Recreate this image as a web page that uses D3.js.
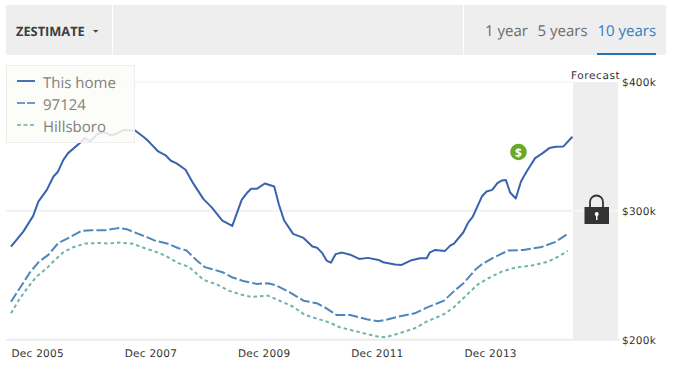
<!DOCTYPE html>
<html><head><meta charset="utf-8">
<script src="https://cdn.jsdelivr.net/npm/d3@7"></script>
<style>html,body{margin:0;padding:0;background:#fff}svg{display:block}text{text-rendering:geometricPrecision}</style>
</head><body><svg id="c" width="674" height="384"></svg>
<script>
// Values in $ thousands; months counted from Dec 2005
const homeMonths=[0,2.6,4.7,5.8,7.6,9,9.9,11.1,12.1,14.6,15.7,16.7,18.2,19.6,21.2,22.4,23.8,26.3,28.4,29.5,31.2,32.8,33.9,35.1,37,38.6,40.8,42.5,44.8,46.9,48.9,50,50.9,52.1,53.8,55.8,56.8,57.9,59.8,62,63.9,64.9,65.9,66.9,67.8,68.8,70.2,71.9,73.8,75.7,77.9,78.9,81.4,82.8,84.9,86.7,88.1,88.8,89.9,92,93.1,93.9,95.9,96.9,97.9,99.8,100.8,102,103.1,104,104.9,105.8,107,108.1,109.3,111.1,112.7,114.1,115.5,117.1,119];
const homeValues=[272.3,283.9,296.1,307.2,316.3,326.7,330.1,339.6,344.8,352.6,356.5,353.8,359.1,361.4,358.5,359.8,362.7,362.4,356.5,352.6,346.1,343,338.9,336.8,331.9,321.5,309.1,302.9,292.5,288.3,308.5,313.8,317.1,317.1,321.2,318.9,304.7,292.5,282.1,279,272.3,271.3,267.6,261.4,259.8,266.4,267.6,266,262.7,263.5,261.9,260.1,258.3,258,261.7,263.2,263.2,267.8,269.7,268.9,273,274.6,283.4,290.9,295.6,311.1,315,316.3,321.5,323.5,323.9,314.2,309.6,322.8,330.5,340.9,344.8,348.7,349.7,350,357.5];
const zipMonths=[0,2.3,4,5.8,7.9,10,12.5,15,17.1,19.9,22.7,24.5,27,28.8,30.5,33.3,35.5,37.2,39.4,41.1,43.2,45,46.8,49.2,52.1,54.5,56.3,59.1,62,64.8,66.6,69,71.9,75.4,77.9,79.3,82.1,85.6,88.1,91.7,93.8,95.9,98.4,99.8,102.3,105.4,108.6,112.5,115.3,118];
const zipValues=[229.5,242.5,252.1,260.1,265.8,274.9,279.6,284.5,285,285,286.6,285.8,282.1,279.6,276.9,274.4,271,269.2,261.4,256.3,254.2,252.1,248.5,245.6,243.3,243.8,242,236.8,230.3,228.3,224.9,219.2,219.2,215.9,214.3,215.3,217.9,220.5,224.9,230.1,237.3,243.8,254.2,258.6,263.7,269.2,269.7,272,275.7,282.1];
const cityMonths=[0,1.9,3.7,5.4,7.6,9.3,11.1,13.2,15.7,18.9,20.6,23.1,25.9,28.4,31.6,33.3,35.5,37.6,38.6,40.8,43.6,46.1,48.5,51,54.5,57.4,59.8,62.3,65.1,67.6,69.7,72.6,75.4,77.9,79.3,82.1,85.6,88.1,91.7,93.8,96.2,99,101.2,104,106.8,110.4,113.9,116,118];
const cityValues=[220.5,232.2,241.2,249,255.5,261.9,267.9,271.8,274.6,275.1,274.6,275.4,274.4,271,267.1,264,259.4,256.7,253.8,246.4,243,238.1,235.3,233.2,234.2,229.5,225.6,219.2,216.1,213.2,209.6,207,204.4,202.3,201.9,204.7,208.9,214,219.7,224.9,233.4,243,247.7,252.8,255.9,257.5,260.6,264.5,268.9];
const xTickMonths=[0,24,48,72,96];
const xTickLabels=["Dec 2005","Dec 2007","Dec 2009","Dec 2011","Dec 2013"];
const yTicks=[200,300,400];
const legendLabels=["This home","97124","Hillsboro"];
const rangeLabels=["1 year","5 years","10 years"];

const svg=d3.select("#c");
const x=d3.scaleLinear().domain([0,119]).range([11,572.4]);
const y=d3.scaleLinear().domain([200,400]).range([339.7,82]);
const sans="'Open Sans',sans-serif", dj="'DejaVu Sans',sans-serif";

// header
svg.append("rect").attr("x",6).attr("y",5).attr("width",660).attr("height",50).attr("fill","#eeeeee");
[112.5,463.5].forEach(v=>svg.append("rect").attr("x",v-.5).attr("y",5).attr("width",1).attr("height",50).attr("fill","#fff"));
svg.append("text").attr("x",16).attr("y",36).attr("font-family",sans).attr("font-weight",700).attr("font-size",12.8).attr("fill","#3d3d3d").text("ZESTIMATE");
svg.append("path").attr("d","M93 30h5.5l-2.75 2.8z").attr("fill","#444");
const rangeX=[485,537.5,597.5];
rangeLabels.forEach((t,i)=>svg.append("text").attr("x",rangeX[i]).attr("y",36).attr("font-family",sans).attr("font-size",15)
  .attr("fill",i==2?"#2f7dc1":"#6b6b6b").text(t));
svg.append("rect").attr("x",597).attr("y",53).attr("width",59).attr("height",2).attr("fill","#1f74bb");

// forecast band + grid
svg.append("rect").attr("x",573).attr("y",82).attr("width",45).attr("height",258).attr("fill","#eeeeee");
yTicks.forEach(v=>svg.append("line").attr("x1",6).attr("x2",v==200?620:573).attr("y1",y(v)).attr("y2",y(v))
  .attr("stroke",v==200?"#ececec":"#f1f1f1").attr("stroke-width",v==400?1:2));
svg.append("line").attr("x1",573).attr("x2",618).attr("y1",y(300)).attr("y2",y(300)).attr("stroke","#f7f7f7").attr("stroke-width",2);

// axes
const yAxis=d3.axisRight(y).tickValues(yTicks).tickSize(0).tickPadding(0).tickFormat(d=>"$"+d+"k");
const gy=svg.append("g").attr("transform","translate(622,0)").call(yAxis);
gy.select(".domain").remove();
gy.selectAll("text").attr("font-family",dj).attr("font-size",10.5).attr("fill","#333").attr("letter-spacing",".25px");
const xAxis=d3.axisBottom(x).tickValues(xTickMonths).tickSize(0).tickPadding(0).tickFormat((d,i)=>xTickLabels[i]);
const gx=svg.append("g").attr("transform","translate(0,350)").call(xAxis);
gx.select(".domain").remove();
gx.selectAll("text").attr("font-family",dj).attr("font-size",10.5).attr("fill","#333").attr("text-anchor","start").attr("letter-spacing",".25px");

svg.append("text").attr("x",571).attr("y",79).attr("font-family",dj).attr("font-size",10.5).attr("fill","#333").attr("letter-spacing",".6px").text("Forecast");

// lines
const series=[
 {m:cityMonths,v:cityValues,c:"#6fb3ad",d:"3.5,3"},
 {m:zipMonths,v:zipValues,c:"#4c87bd",d:"10,3"},
 {m:homeMonths,v:homeValues,c:"#3863ad",d:null}];
const line=d3.line().x(d=>x(d[0])).y(d=>y(d[1]));
series.forEach(s=>svg.append("path").datum(s.m.map((m,i)=>[m,s.v[i]])).attr("d",line).attr("fill","none")
  .attr("stroke",s.c).attr("stroke-width",2).attr("stroke-linejoin","round").attr("stroke-dasharray",s.d));

// legend
svg.append("rect").attr("x",6.5).attr("y",65.5).attr("width",128).attr("height",77).attr("fill","#fbfbf7").attr("fill-opacity",.85).attr("stroke","#eeeeee");
const legendStyle=[{c:"#4a70b4",d:null},{c:"#6a9dc8",d:"8,2"},{c:"#8dbfbd",d:"4,2.5"}];
legendLabels.forEach((t,i)=>{
  const ly=81+i*22;
  svg.append("line").attr("x1",17).attr("x2",35).attr("y1",ly).attr("y2",ly).attr("stroke",legendStyle[i].c).attr("stroke-width",2).attr("stroke-dasharray",legendStyle[i].d);
  svg.append("text").attr("x",43).attr("y",ly+6.5).attr("font-family",sans).attr("font-size",15).attr("fill","#808080").text(t);
});

// zestimate marker
svg.append("circle").attr("cx",518.5).attr("cy",152).attr("r",8.3).attr("fill","#6aa82c");
svg.append("text").attr("x",518.5).attr("y",156.5).attr("text-anchor","middle").attr("font-family",sans).attr("font-weight",700).attr("font-size",12).attr("fill","#fff").text("$");

// lock
svg.append("path").attr("d","M590 210v-8a6.5 6.5 0 0 1 13 0v8").attr("fill","none").attr("stroke","#333").attr("stroke-width",1.8);
svg.append("rect").attr("x",584.5).attr("y",207).attr("width",24.5).attr("height",17).attr("fill","#333");
svg.append("circle").attr("cx",596.7).attr("cy",214).attr("r",2).attr("fill","#fff");
svg.append("rect").attr("x",596).attr("y",214).attr("width",1.5).attr("height",6).attr("fill","#fff");
</script></body></html>
